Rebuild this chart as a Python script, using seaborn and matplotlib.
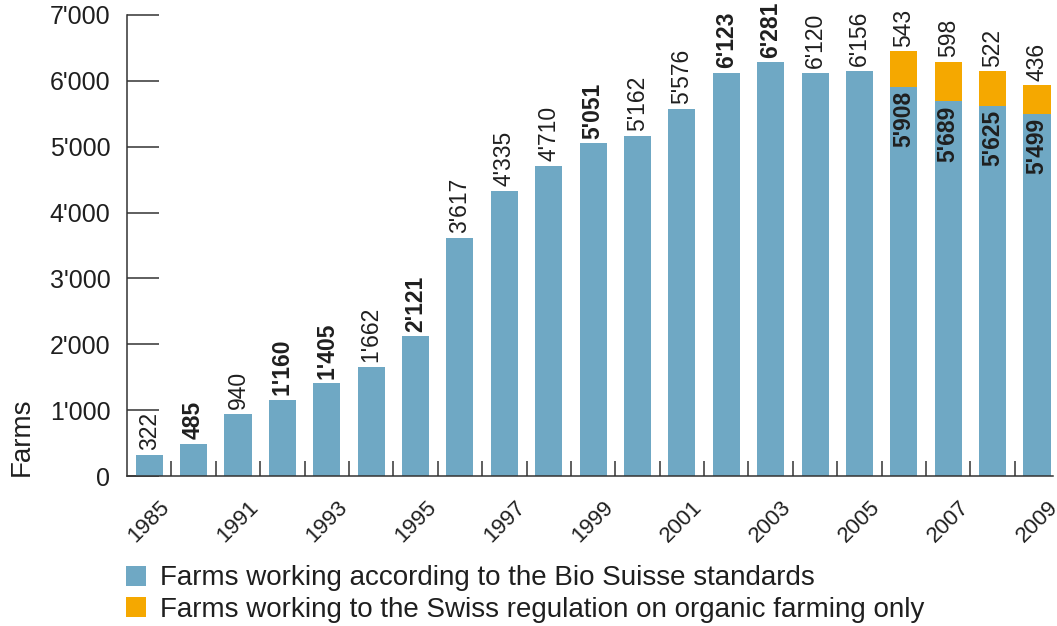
import matplotlib
matplotlib.use("Agg")
import matplotlib.pyplot as plt
import seaborn as sns
import pandas as pd
from matplotlib.patches import Patch
from matplotlib.ticker import FixedLocator, FuncFormatter

years = [1985, 1990, 1991, 1992, 1993, 1994, 1995, 1996, 1997, 1998, 1999,
         2000, 2001, 2002, 2003, 2004, 2005, 2006, 2007, 2008, 2009]
bio_suisse = [322, 485, 940, 1160, 1405, 1662, 2121, 3617, 4335, 4710, 5051,
              5162, 5576, 6123, 6281, 6120, 6156, 5908, 5689, 5625, 5499]
swiss_only = [0, 0, 0, 0, 0, 0, 0, 0, 0, 0, 0,
              0, 0, 0, 0, 0, 0, 543, 598, 522, 436]
bold_years = [1990, 1992, 1993, 1995, 1999, 2002, 2003, 2006, 2007, 2008, 2009]
tick_years = [1985, 1991, 1993, 1995, 1997, 1999, 2001, 2003, 2005, 2007, 2009]
legend_labels = ["Farms working according to the Bio Suisse standards",
                 "Farms working to the Swiss regulation on organic farming only"]

BLUE = "#6FA8C4"
ORANGE = "#F5A800"
TXT = "#1f1f1f"

sns.set_theme(style="white")
plt.rcParams['font.family'] = ['Liberation Sans', 'DejaVu Sans']
LABEL_FONT = ['Liberation Sans Narrow', 'Liberation Sans', 'DejaVu Sans']

df = pd.DataFrame({"year": [str(y) for y in years],
                   "bio": bio_suisse,
                   "total": [b + s for b, s in zip(bio_suisse, swiss_only)]})

fig = plt.figure(figsize=(10.57, 6.26), dpi=100)
ax = fig.add_axes([127 / 1057, 1 - 476 / 626, (1053 - 127) / 1057, (476 - 15) / 626])

sns.barplot(data=df, x="year", y="total", color=ORANGE, width=0.61,
            saturation=1, ax=ax, linewidth=0)
sns.barplot(data=df, x="year", y="bio", color=BLUE, width=0.61,
            saturation=1, ax=ax, linewidth=0)

ax.set_ylim(0, 7000)
ax.set_xlim(-0.5, len(years) - 1 + 0.36)

def fmt(v):
    return f"{int(v):,}".replace(",", "'")

ax.yaxis.set_major_locator(FixedLocator(range(0, 7001, 1000)))
ax.yaxis.set_major_formatter(FuncFormatter(lambda v, p: fmt(v)))
ax.tick_params(axis='y', direction='in', length=23, width=1.1, color="#333333",
               labelsize=18, labelcolor=TXT, pad=12, left=True)

xt = [years.index(y) for y in tick_years]
ax.set_xticks(xt)
ax.set_xticklabels([str(y) for y in tick_years], rotation=45, ha='center',
                   fontsize=16, color=TXT)
ax.tick_params(axis='x', which='major', length=0, pad=15, bottom=True)
ax.xaxis.set_minor_locator(FixedLocator([i + 0.5 for i in range(len(years) - 1)]))
ax.tick_params(axis='x', which='minor', direction='in', length=11, width=1.1,
               color="#333333", bottom=True)

for s in ["top", "right"]:
    ax.spines[s].set_visible(False)
for s in ["left", "bottom"]:
    ax.spines[s].set_visible(True)
    ax.spines[s].set_color("#333333")
    ax.spines[s].set_linewidth(1.1)

ax.set_xlabel("")
ax.set_ylabel("Farms", fontsize=20, color=TXT)
ax.yaxis.set_label_coords(-0.100, 0.085)

for i, (y, b, s) in enumerate(zip(years, bio_suisse, swiss_only)):
    w = 'bold' if y in bold_years else 'normal'
    if s > 0:
        ax.text(i, b + s + 70, fmt(s), rotation=90, ha='center', va='bottom',
                fontsize=16.5, family=LABEL_FONT, color=TXT)
        ax.text(i, b - 60, fmt(b), rotation=90, ha='center', va='top',
                fontsize=16.5, family=LABEL_FONT, color=TXT, fontweight=w)
    else:
        ax.text(i, b + 70, fmt(b), rotation=90, ha='center', va='bottom',
                fontsize=16.5, family=LABEL_FONT, color=TXT, fontweight=w)

handles = [Patch(facecolor=BLUE, edgecolor='none'),
           Patch(facecolor=ORANGE, edgecolor='none')]
fig.legend(handles, legend_labels, loc='upper left',
           bbox_to_anchor=(118 / 1057, 1 - 557 / 626), frameon=False,
           fontsize=20, handlelength=0.72, handleheight=0.72,
           handletextpad=0.5, labelspacing=0.2, labelcolor=TXT,
           borderaxespad=0, borderpad=0.3)

fig.savefig("out.png", dpi=100)
